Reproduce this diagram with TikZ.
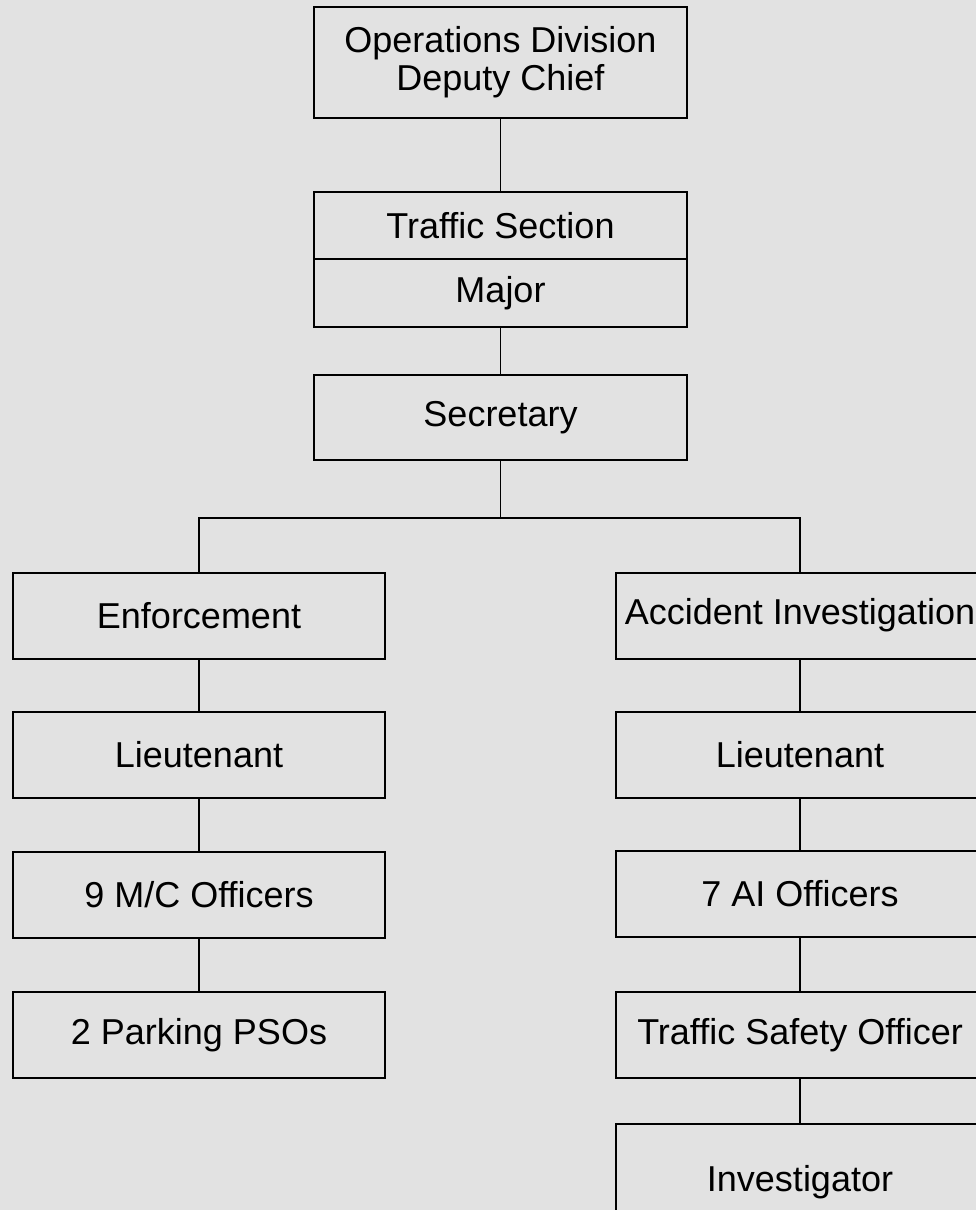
\documentclass[tikz,border=0pt]{standalone}
\usepackage{fontspec}
\setmainfont{Liberation Sans}
\definecolor{paper}{HTML}{E2E2E2}
\begin{document}
\begin{tikzpicture}[x=1pt,y=-1pt,
  box/.style={draw=black, line width=2pt, rectangle, inner sep=0pt, align=center,
    text=black, font=\fontsize{36}{37}\selectfont},
  topbox/.style={box, minimum width=373pt},
  leftbox/.style={box, minimum width=372pt, minimum height=86pt},
  rightbox/.style={box, minimum width=368pt, minimum height=86pt},
  link/.style={draw=black, line width=1.5pt}]
\useasboundingbox (0,0) rectangle (976,1210);
\clip (0,0) rectangle (976,1210);
\fill[paper] (0,0) rectangle (976,1210);

% top chain
\node[topbox, minimum height=111pt] (ops) at (500.5,62.5) {Operations Division\\[1pt]Deputy Chief};
\node[topbox, minimum height=67pt] (traffic) at (500.5,225.5) {Traffic Section};
\node[topbox, minimum height=68pt] (major) at (500.5,293) {Major};
\node[topbox, minimum height=85pt] (sec) at (500.5,417.5) {Secretary};

% left column
\node[leftbox] (enf) at (199,615.5) {Enforcement};
\node[leftbox] (ltL) at (199,755) {Lieutenant};
\node[leftbox] (mc) at (199,895) {9 M/C Officers};
\node[leftbox] (pso) at (199,1035) {2 Parking PSOs};

% right column
\node[rightbox] (acc) at (800,615.5) {Accident Investigation};
\node[rightbox] (ltR) at (800,754.5) {Lieutenant};
\node[rightbox] (ai) at (800,894) {7 AI Officers};
\node[rightbox] (tso) at (800,1035) {Traffic Safety Officer};
\node[rightbox, minimum height=116pt] (inv) at (800,1182) {Investigator};

% bus
\coordinate (busM) at (500.5,518);
\coordinate (busL) at (199,518);
\coordinate (busR) at (800,518);

% connectors
\draw[link] (ops) -- (traffic);
\draw[link] (major) -- (sec);
\draw[link] (sec) -- (busM);
\draw[link] (enf) -- (busL) -- (busR) -- (acc);
\draw[link] (enf) -- (ltL);
\draw[link] (ltL) -- (mc);
\draw[link] (mc) -- (pso);
\draw[link] (acc) -- (ltR);
\draw[link] (ltR) -- (ai);
\draw[link] (ai) -- (tso);
\draw[link] (tso) -- (inv);
\end{tikzpicture}
\end{document}
